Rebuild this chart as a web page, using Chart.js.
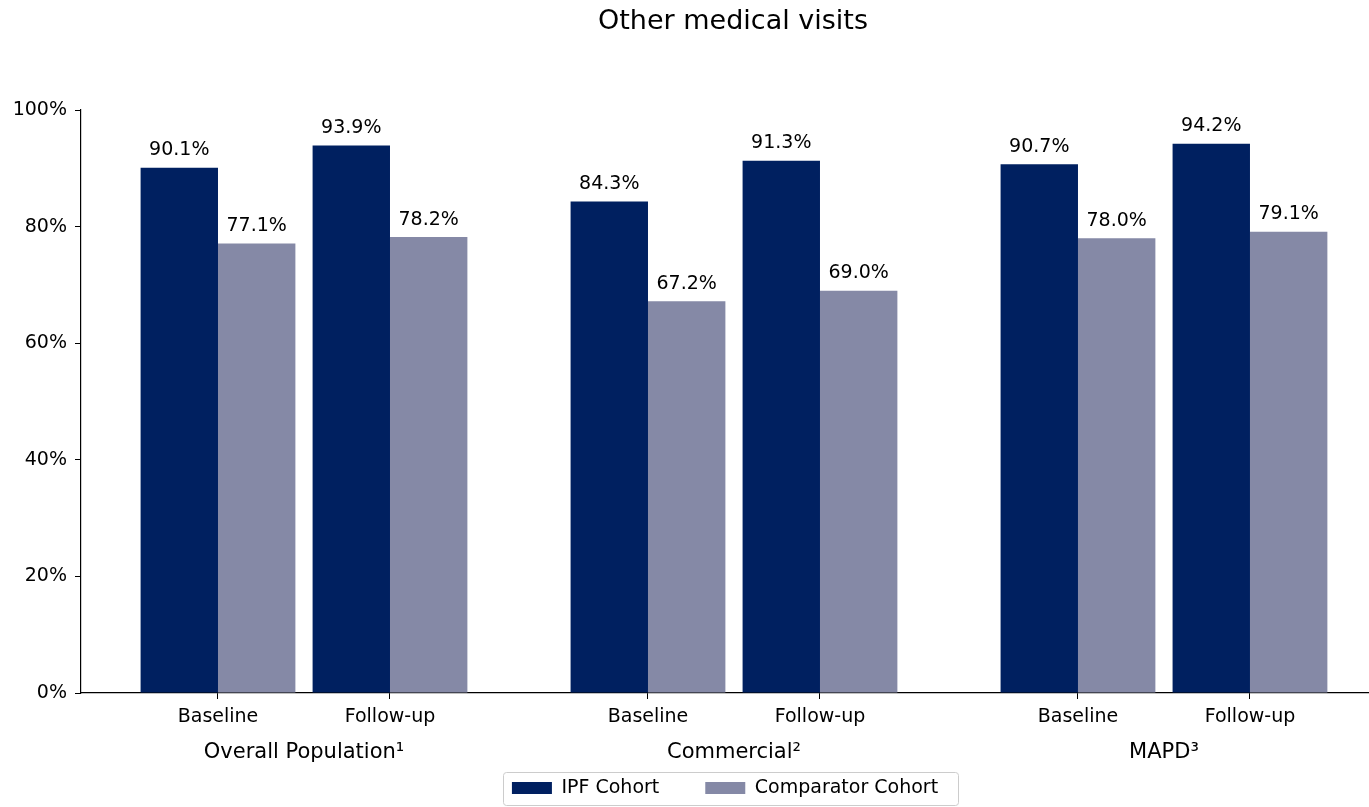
<!DOCTYPE html>
<html>
<head>
<meta charset="utf-8">
<script src="https://cdn.jsdelivr.net/npm/chart.js@4.4.1/dist/chart.umd.min.js"></script>
<style>
  html, body { margin: 0; padding: 0; background: #ffffff; }
  canvas { display: block; }
</style>
</head>
<body>
<canvas id="c" width="1369" height="807"></canvas>
<script>
// ---- Data ----
const chartTitle = 'Other medical visits';
const populations = ['Overall Population\u00B9', 'Commercial\u00B2', 'MAPD\u00B3'];
const periods = ['Baseline', 'Follow-up'];
const seriesNames = ['IPF Cohort', 'Comparator Cohort'];
// order: Overall (Baseline, Follow-up), Commercial (Baseline, Follow-up), MAPD (Baseline, Follow-up)
const ipfValues = [90.1, 93.9, 84.3, 91.3, 90.7, 94.2];
const comparatorValues = [77.1, 78.2, 67.2, 69.0, 78.0, 79.1];
const yTickValues = [0, 20, 40, 60, 80, 100];

// ---- Layout helpers (slot positions on the x scale) ----
const POP_STEP = 2.5;
const slots = [];
const slotLabels = [];
populations.forEach((p, pi) => {
  periods.forEach((per, ti) => {
    slots.push(pi * POP_STEP + ti);
    slotLabels.push(per);
  });
});
const popCenters = populations.map((p, pi) => pi * POP_STEP + (periods.length - 1) / 2);

const toPoints = vals => vals.map((v, i) => ({ x: slots[i], y: v }));

const FONT = "'DejaVu Sans', 'Liberation Sans', sans-serif";
Chart.defaults.font.family = FONT;
Chart.defaults.color = '#000000';

const LEGEND_PAD = 46;
const LEGEND_SHIFT = 35.5;
const TITLE_SHIFT_X = 8;

const valueLabels = {
  id: 'valueLabels',
  afterDatasetsDraw(chart) {
    const ctx = chart.ctx;
    ctx.save();
    ctx.font = '19px ' + FONT;
    ctx.fillStyle = '#000000';
    ctx.textAlign = 'center';
    ctx.textBaseline = 'alphabetic';
    chart.data.datasets.forEach((ds, di) => {
      const meta = chart.getDatasetMeta(di);
      meta.data.forEach((el, i) => {
        const v = ds.data[i].y;
        ctx.fillText(v.toFixed(1) + '%', el.x, el.y - 12.5);
      });
    });
    ctx.restore();
  }
};

const legendFrame = {
  id: 'legendFrame',
  afterInit(chart) {
    const lg = chart.legend;
    if (lg && !lg._shifted) {
      lg.draw = function () {
        if (!this.options.display) return;
        const ctx = this.ctx;
        ctx.save();
        ctx.translate(0, -LEGEND_SHIFT);
        this._draw();
        ctx.restore();
      };
      lg._shifted = true;
    }
    const tb = chart.titleBlock;
    if (tb && !tb._shifted) {
      const origT = tb.draw.bind(tb);
      tb.draw = function () {
        const ctx = this.ctx;
        ctx.save();
        ctx.translate(TITLE_SHIFT_X, 0);
        origT();
        ctx.restore();
      };
      tb._shifted = true;
    }
  },
  afterDraw(chart) {
    const lg = chart.legend;
    if (!lg || !lg.legendHitBoxes || !lg.legendHitBoxes.length) return;
    const hb = lg.legendHitBoxes;
    const first = hb[0], last = hb[hb.length - 1];
    const cy = first.top + first.height / 2 - LEGEND_SHIFT;
    const x0 = first.left - 9, x1 = last.left + last.width + 20;
    const ctx = chart.ctx;
    ctx.save();
    ctx.strokeStyle = '#cccccc';
    ctx.lineWidth = 1;
    ctx.beginPath();
    const top = Math.round(cy - 16) + 0.5;
    if (ctx.roundRect) ctx.roundRect(Math.round(x0) + 0.5, top, Math.round(x1 - x0), 33, 3);
    else ctx.rect(Math.round(x0) + 0.5, top, Math.round(x1 - x0), 33);
    ctx.stroke();
    ctx.restore();
  }
};

new Chart(document.getElementById('c'), {
  type: 'bar',
  data: {
    datasets: [
      { label: seriesNames[0], data: toPoints(ipfValues), backgroundColor: '#002060', borderWidth: 0, xAxisID: 'x' },
      { label: seriesNames[1], data: toPoints(comparatorValues), backgroundColor: '#8589a6', borderWidth: 0, xAxisID: 'x' }
    ]
  },
  options: {
    responsive: false,
    animation: false,
    events: [],
    categoryPercentage: 0.9,
    barPercentage: 1.0,
    layout: { padding: 0 },
    scales: {
      x: {
        type: 'linear',
        position: 'bottom',
        min: -0.7965,
        max: 6.692,
        offset: false,
        weight: 0,
        afterBuildTicks: s => { s.ticks = slots.map(v => ({ value: v })); },
        afterFit: s => { s.height = 40; },
        ticks: {
          autoSkip: false, maxRotation: 0, padding: 7,
          font: { size: 19 }, color: '#000000',
          callback: (v, i) => slotLabels[i]
        },
        grid: { offset: false, drawOnChartArea: false, tickLength: 6, color: '#000000', lineWidth: 1 },
        border: { display: true, color: '#000000', width: 1.2 }
      },
      x2: {
        type: 'linear',
        position: 'bottom',
        min: -0.7965,
        max: 6.692,
        offset: false,
        weight: 1,
        afterBuildTicks: s => { s.ticks = popCenters.map(v => ({ value: v })); },
        afterFit: s => { s.height = 35; },
        ticks: {
          autoSkip: false, maxRotation: 0, padding: 7,
          font: { size: 21 }, color: '#000000',
          callback: (v, i) => populations[i]
        },
        grid: { display: false, drawTicks: false },
        border: { display: false }
      },
      y: {
        min: 0,
        max: 100,
        afterBuildTicks: s => { s.ticks = yTickValues.map(v => ({ value: v })); },
        afterFit: s => { s.width = 81; },
        ticks: { padding: 8, font: { size: 19 }, color: '#000000', callback: v => v + '%' },
        grid: { drawOnChartArea: false, tickLength: 6, color: '#000000', lineWidth: 1 },
        border: { display: true, color: '#000000', width: 1.2 }
      }
    },
    plugins: {
      title: {
        display: true,
        text: chartTitle,
        fullSize: false,
        font: { size: 27, weight: 'normal' },
        color: '#000000',
        padding: { top: 6, bottom: 71.6 }
      },
      legend: {
        display: true,
        position: 'bottom',
        fullSize: false,
        maxHeight: 39,
        labels: {
          boxWidth: 40, boxHeight: 12, padding: LEGEND_PAD,
          font: { size: 19 }, color: '#000000'
        }
      },
      tooltip: { enabled: false }
    }
  },
  plugins: [valueLabels, legendFrame]
});
</script>
</body>
</html>
